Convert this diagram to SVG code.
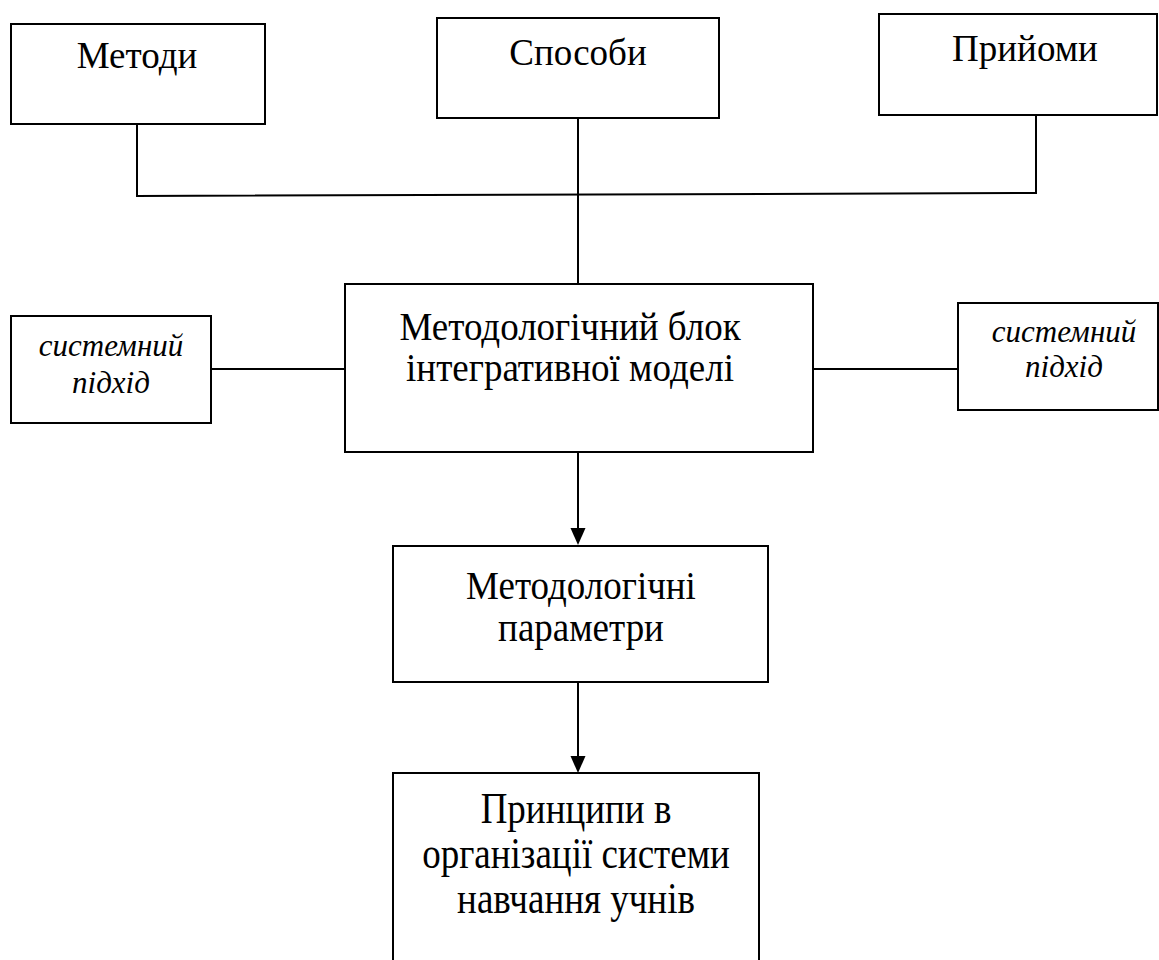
<svg xmlns="http://www.w3.org/2000/svg" width="1159" height="960" viewBox="0 0 1159 960">
  <style>
    .box { fill: #ffffff; stroke: #000000; stroke-width: 2; }
    .lbl { font-family: "Liberation Serif", "Times New Roman", serif; font-size: 37px; fill: #000000; text-anchor: middle; }
    .ital { font-family: "Liberation Serif", "Times New Roman", serif; font-size: 31px; font-style: italic; fill: #000000; text-anchor: middle; }
    .conn { fill: none; stroke: #000000; stroke-width: 2; }
    .head { fill: #000000; }
  </style>
  <rect width="1159" height="960" fill="#ffffff"/>

  <g id="connectors">
    <polyline class="conn" points="137,124 137,196 1036,193 1036,115"/>
    <line class="conn" x1="578" y1="118" x2="578" y2="284"/>
    <line class="conn" x1="211" y1="369" x2="345" y2="369"/>
    <line class="conn" x1="813" y1="369" x2="958" y2="369"/>
    <line class="conn" x1="578" y1="452" x2="578" y2="530"/>
    <path class="head" d="M570.5,528 L585.5,528 L578,545 Z"/>
    <line class="conn" x1="578" y1="682" x2="578" y2="758"/>
    <path class="head" d="M570.5,756 L585.5,756 L578,773 Z"/>
  </g>

  <g id="node-metody">
    <rect class="box" x="11" y="24" width="254" height="100"/>
    <text class="lbl" x="137" y="68">Методи</text>
  </g>
  <g id="node-sposoby">
    <rect class="box" x="437" y="18" width="282" height="100"/>
    <text class="lbl" x="578" y="65">Способи</text>
  </g>
  <g id="node-pryiomy">
    <rect class="box" x="879" y="14" width="278" height="101"/>
    <text class="lbl" x="1025" y="61">Прийоми</text>
  </g>
  <g id="node-left-approach">
    <rect class="box" x="11" y="316" width="200" height="107"/>
    <text class="ital" transform="translate(111,356) scale(1,1.05)">системний</text>
    <text class="ital" transform="translate(111,393) scale(1,1.05)">підхід</text>
  </g>
  <g id="node-central">
    <rect class="box" x="345" y="284" width="468" height="168"/>
    <text class="lbl" transform="translate(570,340) scale(1,1.08)">Методологічний блок</text>
    <text class="lbl" transform="translate(570,381) scale(1,1.08)">інтегративної моделі</text>
  </g>
  <g id="node-right-approach">
    <rect class="box" x="958" y="303" width="200" height="107"/>
    <text class="ital" transform="translate(1064,342) scale(1,1.05)">системний</text>
    <text class="ital" transform="translate(1064,377) scale(1,1.05)">підхід</text>
  </g>
  <g id="node-params">
    <rect class="box" x="393" y="546" width="375" height="136"/>
    <text class="lbl" transform="translate(581,599) scale(1,1.1)">Методологічні</text>
    <text class="lbl" transform="translate(581,641) scale(1,1.1)">параметри</text>
  </g>
  <g id="node-principles">
    <rect class="box" x="393" y="773" width="366" height="200"/>
    <text class="lbl" transform="translate(576,823) scale(1,1.2)">Принципи в</text>
    <text class="lbl" transform="translate(576,868) scale(1,1.2)">організації системи</text>
    <text class="lbl" transform="translate(576,913) scale(1,1.2)">навчання учнів</text>
  </g>
</svg>
